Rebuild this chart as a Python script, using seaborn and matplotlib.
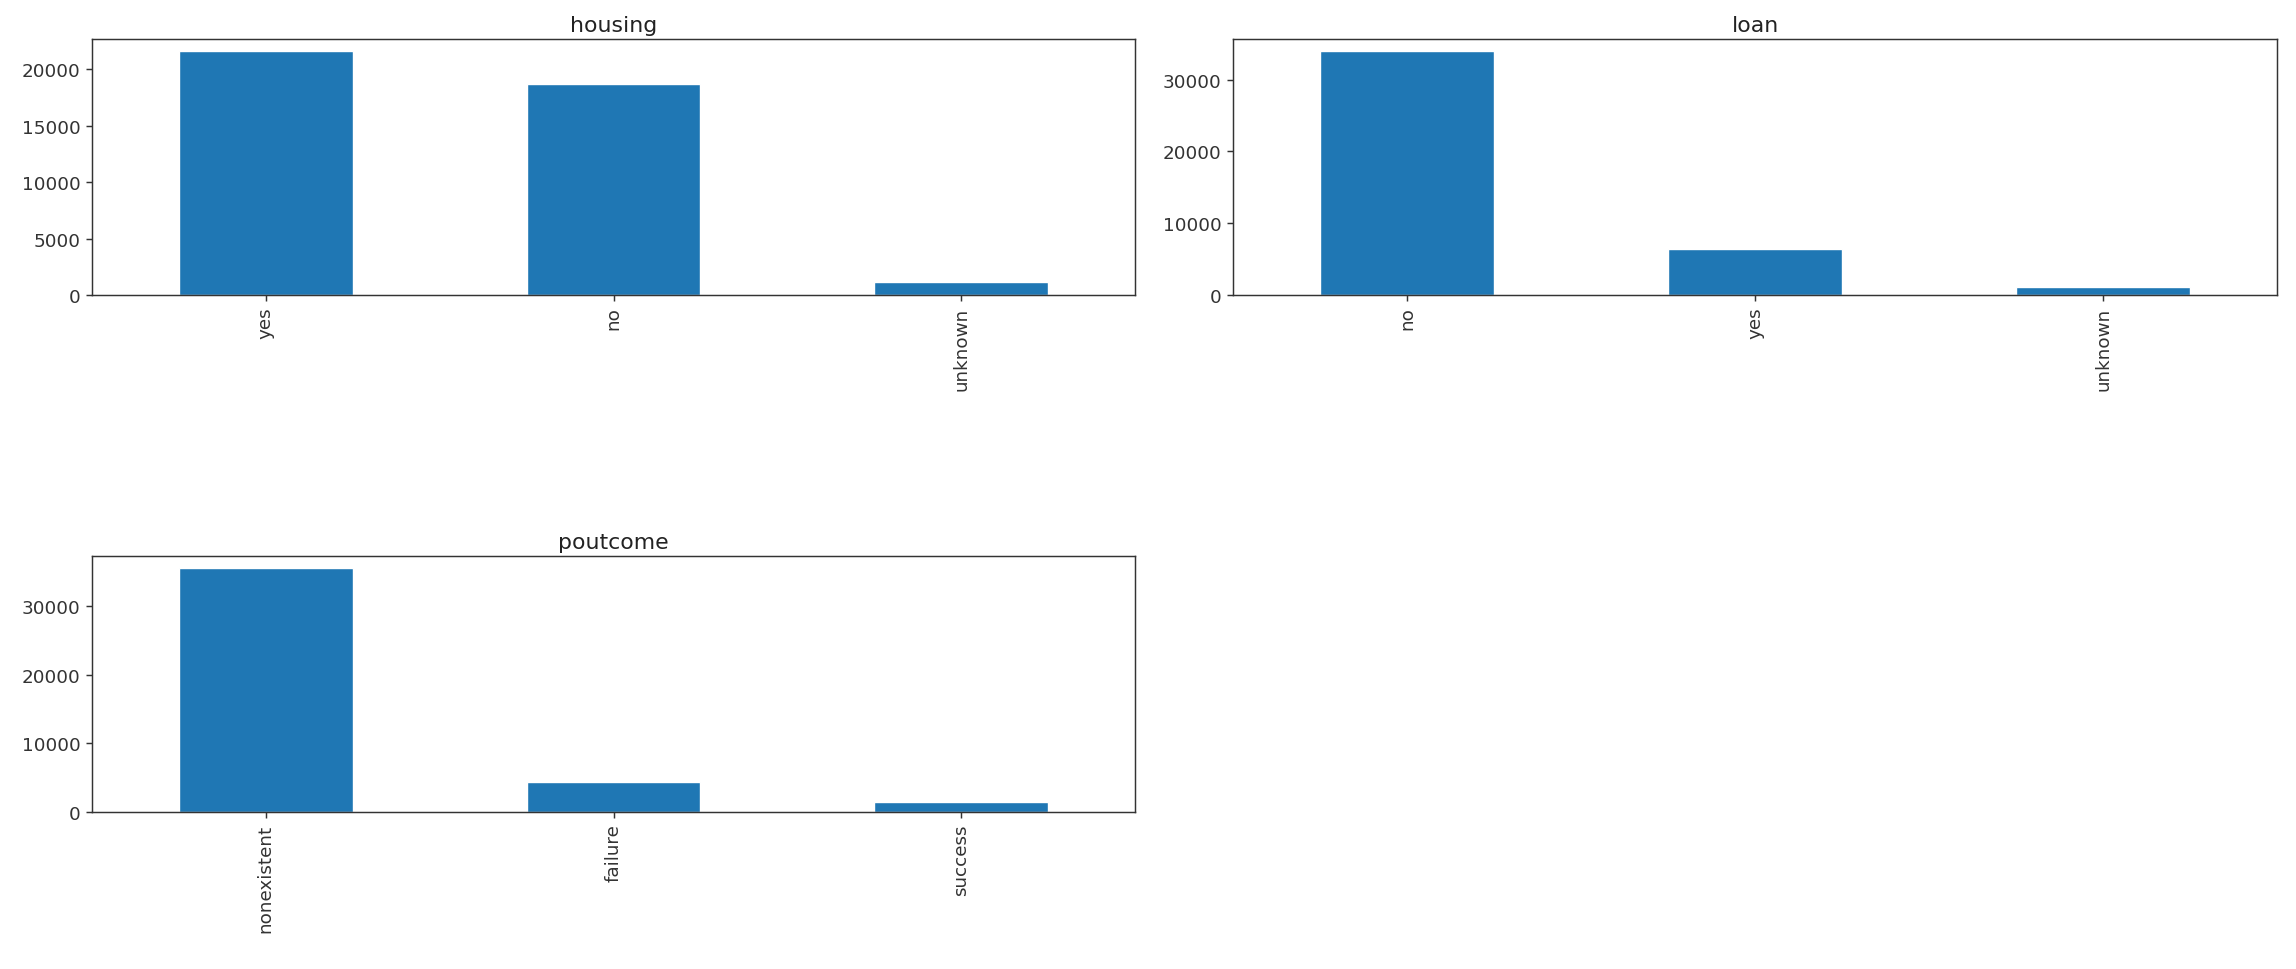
import matplotlib
matplotlib.use("Agg")
import matplotlib.pyplot as plt
import seaborn as sns
import pandas as pd

housing_cats = ["yes", "no", "unknown"]
housing_vals = [21580, 18660, 1150]
loan_cats = ["no", "yes", "unknown"]
loan_vals = [33950, 6450, 1150]
poutcome_cats = ["nonexistent", "failure", "success"]
poutcome_vals = [35560, 4400, 1500]

sns.set_style("ticks")
plt.rcParams["font.family"] = ["DejaVu Sans"]
S = 1.32
plt.rcParams.update({
    "axes.linewidth": 0.8 * S,
    "xtick.major.size": 3.5 * S,
    "ytick.major.size": 3.5 * S,
    "xtick.major.width": 0.8 * S,
    "ytick.major.width": 0.8 * S,
    "xtick.labelsize": 10 * S,
    "ytick.labelsize": 10 * S,
    "axes.edgecolor": "#333333",
    "xtick.color": "#333333",
    "ytick.color": "#333333",
})

W, H = 2296, 970
fig = plt.figure(figsize=(W / 100, H / 100), dpi=100)

def rect(l, r, t, b):
    return [l / W, 1 - b / H, (r - l) / W, (b - t) / H]

panels = [
    ("housing", housing_cats, housing_vals, rect(92, 1135, 40, 296)),
    ("loan", loan_cats, loan_vals, rect(1233, 2277, 40, 296)),
    ("poutcome", poutcome_cats, poutcome_vals, rect(92, 1135, 557, 813)),
]

for title, cats, vals, r in panels:
    ax = fig.add_axes(r)
    df = pd.DataFrame({"cat": cats, "val": vals})
    sns.barplot(data=df, x="cat", y="val", order=cats, color="#1f77b4",
                saturation=1, width=0.5, ax=ax)
    ax.set_xlim(-0.5, 2.5)
    ax.set_ylim(0, max(vals) * 1.05)
    ax.set_xlabel("")
    ax.set_ylabel("")
    ax.set_title(title, fontsize=12 * S, color="#222222")
    ax.tick_params(axis="x", labelrotation=90)
    for s in ax.spines.values():
        s.set_visible(True)

fig.savefig("out.png", dpi=100)
